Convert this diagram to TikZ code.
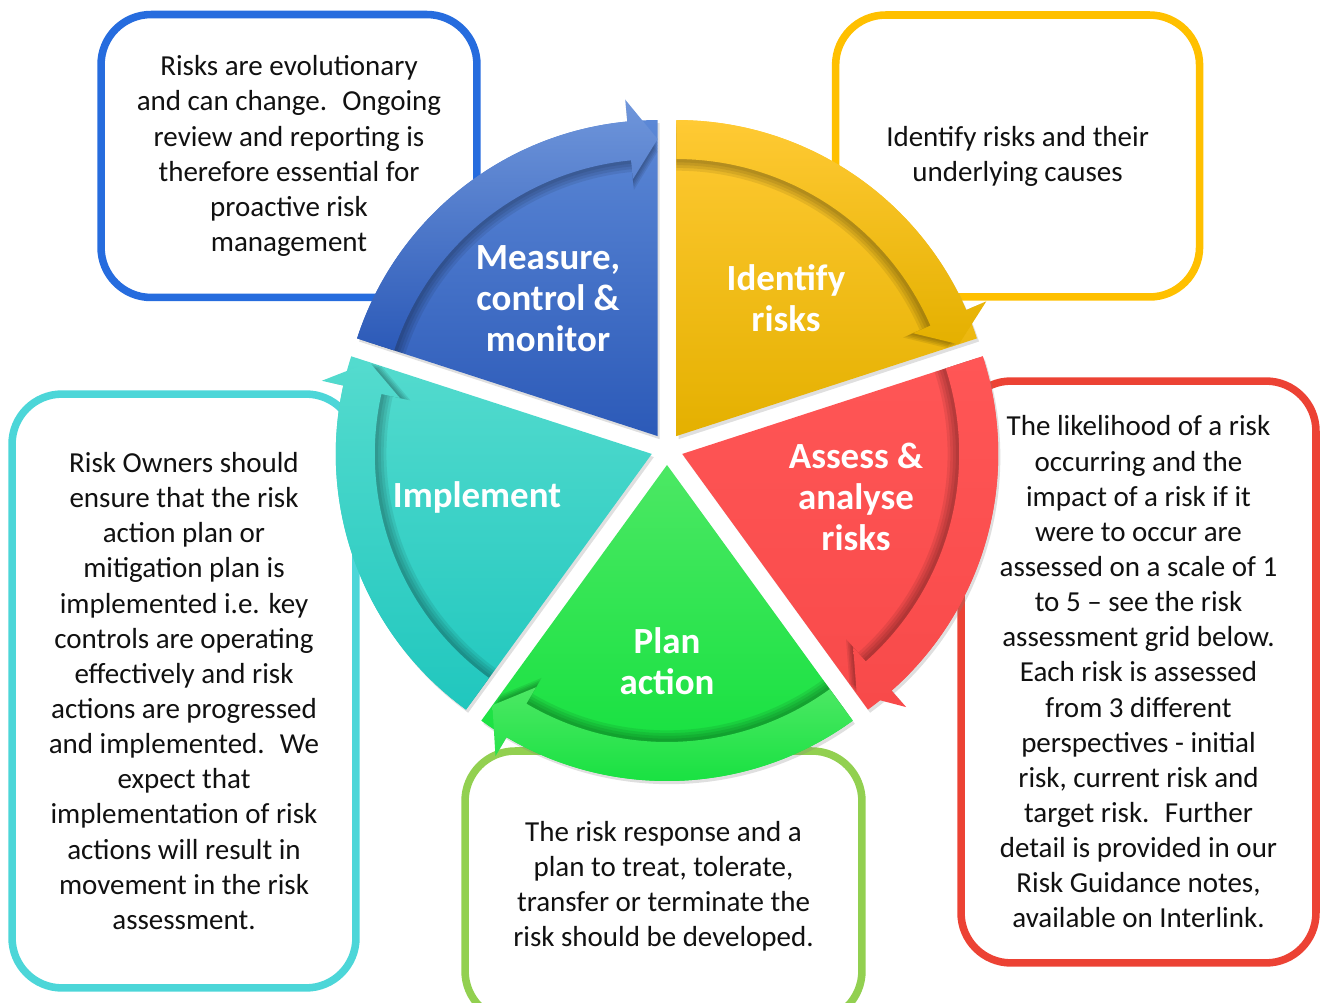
\documentclass[tikz,border=0pt]{standalone}
\usepackage{fontspec}
\setmainfont{Carlito}
\usetikzlibrary{shadows}

\definecolor{blueLine}{RGB}{38,108,222}
\definecolor{yellowLine}{RGB}{255,192,0}
\definecolor{redLine}{RGB}{236,66,52}
\definecolor{tealLine}{RGB}{76,214,216}
\definecolor{greenLine}{RGB}{146,208,80}
\definecolor{blueTop}{RGB}{92,136,214}
\definecolor{blueBot}{RGB}{44,90,184}
\definecolor{yellowTop}{RGB}{255,202,52}
\definecolor{yellowBot}{RGB}{228,176,0}
\definecolor{redTop}{RGB}{255,86,86}
\definecolor{redBot}{RGB}{248,74,74}
\definecolor{greenTop}{RGB}{76,232,100}
\definecolor{greenBot}{RGB}{14,224,58}
\definecolor{tealTop}{RGB}{84,219,206}
\definecolor{tealBot}{RGB}{32,199,190}
\definecolor{textGrey}{RGB}{17,17,17}

% curved arrow band of a stage, #1 = angle where its head points
\newcommand{\riskband}[1]{(#1+72:316) arc[start angle=#1+72, end angle=#1+5.5, radius=316]
	-- (#1+5.5:338) -- (#1:297) -- (#1+5.5:258) -- (#1+5.5:277)
	arc[start angle=#1+5.5, end angle=#1+72, radius=277] -- cycle}

\begin{document}
\begin{tikzpicture}[x=0.02cm, y=0.02cm,
	notebox/.style={draw, fill=white, line width=4.3pt, rounded corners=1cm, inner sep=0pt,
		align=center, text=textGrey, font=\fontsize{16.5}{20}\selectfont},
	seglabel/.style={text=white, align=center, font=\fontsize{21}{23.3}\selectfont\bfseries},
	wheel/.style={drop shadow={shadow xshift=1.2pt, shadow yshift=-1.8pt, opacity=0.25}},
	bandshadow/.style={scale=#1, black, opacity=0.08}]
	\useasboundingbox (0,0) rectangle (1330,-1003);

	% Text boxes behind the wheel
	\node[notebox, draw=blueLine, minimum width=7.52cm, minimum height=5.66cm] (measurebox) at (289,-156)
		{Risks are evolutionary\\and can change.~ Ongoing\\review and reporting is\\therefore essential for\\proactive risk\\management};
	\node[notebox, draw=yellowLine, minimum width=7.28cm, minimum height=5.64cm] (identifybox) at (1017.6,-156)
		{Identify risks and their\\underlying causes};
	\node[notebox, draw=redLine, minimum width=7.1cm, minimum height=11.64cm] (assessbox) at (1138.5,-672)
		{The likelihood of a risk\\occurring and the\\impact of a risk if it\\were to occur are\\assessed on a scale of 1\\to 5 -- see the risk\\assessment grid below.\\Each risk is assessed\\from 3 different\\perspectives - initial\\risk, current risk and\\target risk.~ Further\\detail is provided in our\\Risk Guidance notes,\\available on Interlink.};
	\node[notebox, draw=tealLine, minimum width=6.88cm, minimum height=11.88cm] (implementbox) at (184,-691)
		{Risk Owners should\\ensure that the risk\\action plan or\\mitigation plan is\\implemented i.e. key\\controls are operating\\effectively and risk\\actions are progressed\\and implemented.~ We\\expect that\\implementation of risk\\actions will result in\\movement in the risk\\assessment.};
	\node[notebox, draw=greenLine, minimum width=7.94cm, minimum height=5.4cm] (planbox) at (663.5,-886)
		{The risk response and a\\plan to treat, tolerate,\\transfer or terminate the\\risk should be developed.};

	% Measure, control & monitor
	\begin{scope}[shift={(667,-449)}, shift={(126:16)}]
		\shade[wheel, top color=blueTop, bottom color=blueBot] (0,0) -- (90:316) arc[start angle=90, end angle=162, radius=316] -- cycle;
		\foreach \s in {0.958,0.968,0.978,0.988}
			\fill[bandshadow=\s] \riskband{90};
		\shade[top color=blueTop!88!white, bottom color=blueBot] \riskband{90};
	\end{scope}
	% Identify risks
	\begin{scope}[shift={(667,-449)}, shift={(54:16)}]
		\shade[wheel, top color=yellowTop, bottom color=yellowBot] (0,0) -- (18:316) arc[start angle=18, end angle=90, radius=316] -- cycle;
		\foreach \s in {0.958,0.968,0.978,0.988}
			\fill[bandshadow=\s] \riskband{18};
		\shade[top color=yellowTop, bottom color=yellowBot] \riskband{18};
	\end{scope}
	% Assess & analyse risks
	\begin{scope}[shift={(667,-449)}, shift={(-18:16)}]
		\shade[wheel, top color=redTop, bottom color=redBot] (0,0) -- (-54:316) arc[start angle=-54, end angle=18, radius=316] -- cycle;
		\foreach \s in {0.958,0.968,0.978,0.988}
			\fill[bandshadow=\s] \riskband{-54};
		\shade[top color=redTop, bottom color=redBot] \riskband{-54};
	\end{scope}
	% Plan action
	\begin{scope}[shift={(667,-449)}, shift={(-90:16)}]
		\shade[wheel, top color=greenTop, bottom color=greenBot] (0,0) -- (-126:316) arc[start angle=-126, end angle=-54, radius=316] -- cycle;
		\foreach \s in {0.958,0.968,0.978,0.988}
			\fill[bandshadow=\s] \riskband{-126};
		\shade[top color=greenTop, bottom color=greenBot] \riskband{-126};
	\end{scope}
	% Implement
	\begin{scope}[shift={(667,-449)}, shift={(198:16)}]
		\shade[wheel, top color=tealTop, bottom color=tealBot] (0,0) -- (162:316) arc[start angle=162, end angle=234, radius=316] -- cycle;
		\foreach \s in {0.958,0.968,0.978,0.988}
			\fill[bandshadow=\s] \riskband{162};
		\shade[top color=tealTop, bottom color=tealBot] \riskband{162};
	\end{scope}

	% Stage names
	\node[seglabel] (measure) at (548,-299) {Measure,\\control \&\\monitor};
	\node[seglabel] (identify) at (786,-298.5) {Identify\\risks};
	\node[seglabel] (assess) at (856,-497) {Assess \&\\analyse\\risks};
	\node[seglabel] (implement) at (477,-497) {Implement};
	\node[seglabel] (plan) at (667,-661.5) {Plan\\action};
\end{tikzpicture}
\end{document}
